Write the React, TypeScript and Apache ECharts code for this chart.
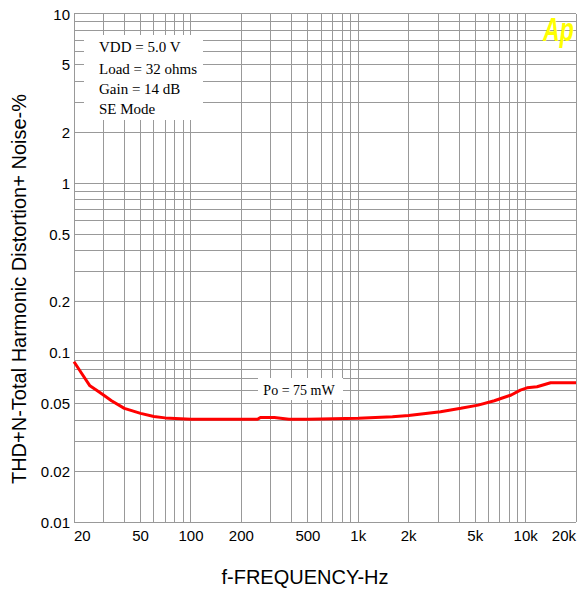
import React, { useEffect, useRef } from "react";
import * as echarts from "echarts";

// Measured curve: THD+N (%) vs frequency (Hz), Po = 75 mW
const freqHz = [20, 22.4, 24.9, 27.3, 30, 33.5, 40, 50, 60, 70, 100, 150, 250, 260, 315, 385, 500, 1000, 1600, 2000, 3100, 4100, 5200, 6500, 8200, 9300, 10200, 11700, 14100, 20000];
const thdPct = [0.0884, 0.0746, 0.0637, 0.0599, 0.0562, 0.052, 0.0469, 0.0438, 0.042, 0.0412, 0.0404, 0.0404, 0.0404, 0.0414, 0.0414, 0.0404, 0.0404, 0.041, 0.0418, 0.0425, 0.0448, 0.0469, 0.049, 0.052, 0.0562, 0.0601, 0.062, 0.0629, 0.0664, 0.0664];

// Axis ranges and ticks
const xMin = 20;
const xMax = 20000;
const yMin = 0.01;
const yMax = 10;
const xTickValues = [20, 50, 100, 200, 500, 1000, 2000, 5000, 10000, 20000];
const xTickLabels = ["20", "50", "100", "200", "500", "1k", "2k", "5k", "10k", "20k"];
const yTickValues = [0.01, 0.02, 0.05, 0.1, 0.2, 0.5, 1, 2, 5, 10];
const yTickLabels = ["0.01", "0.02", "0.05", "0.1", "0.2", "0.5", "1", "2", "5", "10"];

// Grid lines (1-2-3...9 per decade)
const xGridValues = [20, 30, 40, 50, 60, 70, 80, 90, 100, 200, 300, 400, 500, 600, 700, 800, 900, 1000, 2000, 3000, 4000, 5000, 6000, 7000, 8000, 9000, 10000, 20000];
const yGridValues = [0.01, 0.02, 0.03, 0.04, 0.05, 0.06, 0.07, 0.08, 0.09, 0.1, 0.2, 0.3, 0.4, 0.5, 0.6, 0.7, 0.8, 0.9, 1, 2, 3, 4, 5, 6, 7, 8, 9, 10];

const conditionLines = ["VDD = 5.0 V", "Load = 32 ohms", "Gain = 14 dB", "SE Mode"];
const curveLabel = "Po = 75 mW";
const xTitle = "f-FREQUENCY-Hz";
const yTitle = "THD+N-Total Harmonic Distortion+ Noise-%";

const L = Math.log10;

export default function App() {
  const ref = useRef<HTMLDivElement>(null);

  useEffect(() => {
    if (!ref.current) return;
    const chart = echarts.init(ref.current, null, { renderer: "svg" });

    const key = (v: number) => v.toFixed(4);
    const xLabelMap: Record<string, string> = {};
    xTickValues.forEach((v, i) => (xLabelMap[key(L(v))] = xTickLabels[i]));
    const yLabelMap: Record<string, string> = {};
    yTickValues.forEach((v, i) => (yLabelMap[key(L(v))] = yTickLabels[i]));

    const gridColor = "#999999";
    const labelFont = "'Liberation Sans Narrow', 'Arial Narrow', 'Liberation Sans', Arial, sans-serif";
    const titleFont = "20px 'Liberation Sans', Arial, sans-serif";
    const crisp = (v: number) => Math.round(v - 0.5) + 0.5;

    const option: any = {
      animation: false,
      backgroundColor: "#ffffff",
      grid: { left: 74, top: 14, right: 0, bottom: 68, containLabel: false },
      xAxis: {
        type: "value",
        min: L(xMin),
        max: L(xMax),
        splitLine: { show: false },
        axisLine: { show: false },
        axisTick: { show: false },
        axisLabel: {
          customValues: xTickValues.map((v) => L(v)),
          formatter: (v: number) => xLabelMap[key(v)] ?? "",
          color: "#000",
          fontSize: 15,
          fontFamily: labelFont,
          margin: 6,
          alignMinLabel: "left",
          alignMaxLabel: "right",
        },
      },
      yAxis: {
        type: "value",
        min: L(yMin),
        max: L(yMax),
        splitLine: { show: false },
        axisLine: { show: false },
        axisTick: { show: false },
        axisLabel: {
          customValues: yTickValues.map((v) => L(v)),
          formatter: (v: number) => yLabelMap[key(v)] ?? "",
          color: "#000",
          fontSize: 15,
          fontFamily: labelFont,
          margin: 4,
        },
      },
      series: [
        {
          type: "custom",
          name: "xgrid",
          silent: true,
          clip: false,
          z: 1,
          data: xGridValues.map((f) => [L(f), L(yMin)]),
          renderItem: (_p: any, api: any) => {
            const x = api.value(0);
            const a = api.coord([x, L(yMin)]);
            const b = api.coord([x, L(yMax)]);
            const cx = Math.min(crisp(a[0]), 578.5);
            return {
              type: "line",
              shape: { x1: cx, y1: a[1], x2: cx, y2: b[1] },
              style: { stroke: gridColor, lineWidth: 1 },
            };
          },
        },
        {
          type: "custom",
          name: "ygrid",
          silent: true,
          clip: false,
          z: 1,
          data: yGridValues.map((v) => [L(xMin), L(v)]),
          renderItem: (_p: any, api: any) => {
            const y = api.value(1);
            const a = api.coord([L(xMin), y]);
            const b = api.coord([L(xMax), y]);
            const cy = crisp(a[1]);
            return {
              type: "line",
              shape: { x1: a[0], y1: cy, x2: b[0], y2: cy },
              style: { stroke: gridColor, lineWidth: 1 },
            };
          },
        },
        {
          type: "line",
          name: "THD+N",
          z: 5,
          showSymbol: false,
          symbol: "none",
          data: freqHz.map((f, i) => [L(f), L(thdPct[i])]),
          lineStyle: { color: "#ff0000", width: 3 },
        },
      ],
      graphic: [
        { type: "rect", z: 100, shape: { x: 84, y: 35, width: 119, height: 85 }, style: { fill: "#ffffff" } },
        ...conditionLines.map((t, i) => ({
          type: "text",
          z: 101,
          x: 99,
          y: [47, 69, 89, 109][i],
          style: {
            text: t,
            fill: "#000",
            font: "15px 'Liberation Serif', 'Times New Roman', serif",
            verticalAlign: "middle",
            align: "left",
          },
        })),
        { type: "rect", z: 100, shape: { x: 258, y: 378, width: 85, height: 22 }, style: { fill: "#ffffff" } },
        {
          type: "text",
          z: 101,
          x: 299,
          y: 390,
          style: {
            text: curveLabel,
            fill: "#000",
            font: "14px 'Liberation Serif', 'Times New Roman', serif",
            verticalAlign: "middle",
            align: "center",
          },
        },
        {
          type: "text",
          z: 101,
          x: 543,
          y: 12,
          scaleX: 0.68,
          style: {
            text: "Ap",
            fill: "#ffff00",
            font: "italic bold 34px 'Liberation Sans', Arial, sans-serif",
            verticalAlign: "top",
            align: "left",
          },
        },
        {
          type: "text",
          z: 101,
          x: 305,
          y: 577,
          style: { text: xTitle, fill: "#000", font: titleFont, align: "center", verticalAlign: "middle" },
        },
        {
          type: "text",
          z: 101,
          x: 19,
          y: 289,
          rotation: Math.PI / 2,
          style: { text: yTitle, fill: "#000", font: titleFont, align: "center", verticalAlign: "middle" },
        },
      ],
    };

    chart.setOption(option);
    return () => chart.dispose();
  }, []);

  return (
    <div
      ref={ref}
      style={{ position: "fixed", left: 0, top: 0, width: 579, height: 590, background: "#fff" }}
    />
  );
}
